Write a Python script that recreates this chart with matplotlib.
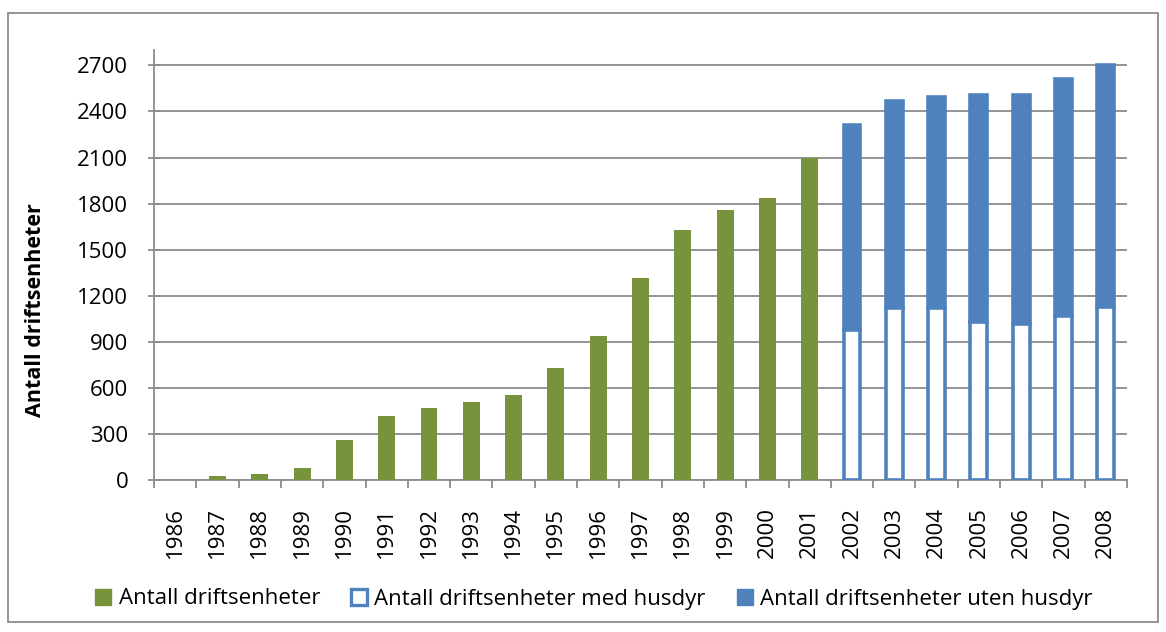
import matplotlib
matplotlib.use("Agg")
import matplotlib.pyplot as plt
from matplotlib.patches import Patch, Rectangle
import numpy as np

years = [str(y) for y in range(1986, 2009)]
# Antall driftsenheter (1986-2001)
total_early = [2, 28, 39, 78, 261, 418, 468, 511, 553, 731, 937, 1318, 1628, 1759, 1835, 2096]
# 2002-2008 split
med_husdyr = [975, 1120, 1120, 1030, 1015, 1067, 1130]
uten_husdyr = [1336, 1350, 1376, 1479, 1494, 1546, 1570]

yticks = list(range(0, 2701, 300))

GREEN = "#77933C"
BLUE = "#4F81BD"
GRID = "#8C8C8C"

plt.rcParams['font.family'] = ['Open Sans', 'DejaVu Sans']

fig = plt.figure(figsize=(11.66, 6.32), dpi=100)
W, H = 1166, 632
ax = fig.add_axes([154 / W, 1 - 480.3 / H, (1127 - 154) / W, (480.3 - 50) / H])

x = np.arange(len(years))
n_early = len(total_early)
bw = 0.40
ax.bar(x[:n_early], total_early, width=bw, color=GREEN, zorder=3)
xl = x[n_early:]
ax.bar(xl, med_husdyr, width=bw, color="white", edgecolor=BLUE, linewidth=2.6, zorder=3)
ax.bar(xl, uten_husdyr, bottom=med_husdyr, width=bw, color=BLUE, edgecolor=BLUE,
       linewidth=2.6, zorder=2.9)

ax.set_xlim(-0.5, len(years) - 0.5)
ax.set_ylim(0, 2800)
ax.set_yticks(yticks)
ax.set_yticklabels([str(v) for v in yticks], fontsize=16)
ax.yaxis.grid(True, color=GRID, linewidth=1.3, zorder=0)
ax.set_axisbelow(True)

ax.set_xticks(np.arange(-0.5, len(years), 1.0))
ax.set_xticklabels([])
ax.set_xticks(x, minor=True)
ax.set_xticklabels(years, minor=True, rotation=90, fontsize=16, va="top")
ax.tick_params(axis="x", which="major", direction="out", length=5.5, color=GRID, width=1.3)
ax.tick_params(axis="x", which="minor", length=0, pad=19)
ax.tick_params(axis="y", direction="inout", length=9, color=GRID, width=1.3, pad=14)

for s in ["top", "right"]:
    ax.spines[s].set_visible(False)
for s in ["left", "bottom"]:
    ax.spines[s].set_color(GRID)
    ax.spines[s].set_linewidth(1.3)

fig.text(36 / W, 1 - 310 / H, "Antall driftsenheter", rotation=90, ha="center", va="center",
         fontsize=15.5, fontweight="bold")

handles = [Patch(facecolor=GREEN, edgecolor=GREEN),
           Patch(facecolor="white", edgecolor=BLUE, linewidth=2.4),
           Patch(facecolor=BLUE, edgecolor=BLUE)]
labels = ["Antall driftsenheter", "Antall driftsenheter med husdyr", "Antall driftsenheter uten husdyr"]
fig.legend(handles, labels, loc="center", bbox_to_anchor=(594 / W, 1 - 599 / H), ncol=3,
           frameon=False, fontsize=16, handlelength=0.7, handleheight=0.7,
           handletextpad=0.35, columnspacing=1.4)

fig.add_artist(Rectangle((8.3 / W, 1 - 622 / H), (1158 - 8.3) / W, (622 - 12.7) / H,
                         transform=fig.transFigure, fill=False, edgecolor="#8C8C8C",
                         linewidth=1.3))

fig.savefig("out.png", dpi=100)
